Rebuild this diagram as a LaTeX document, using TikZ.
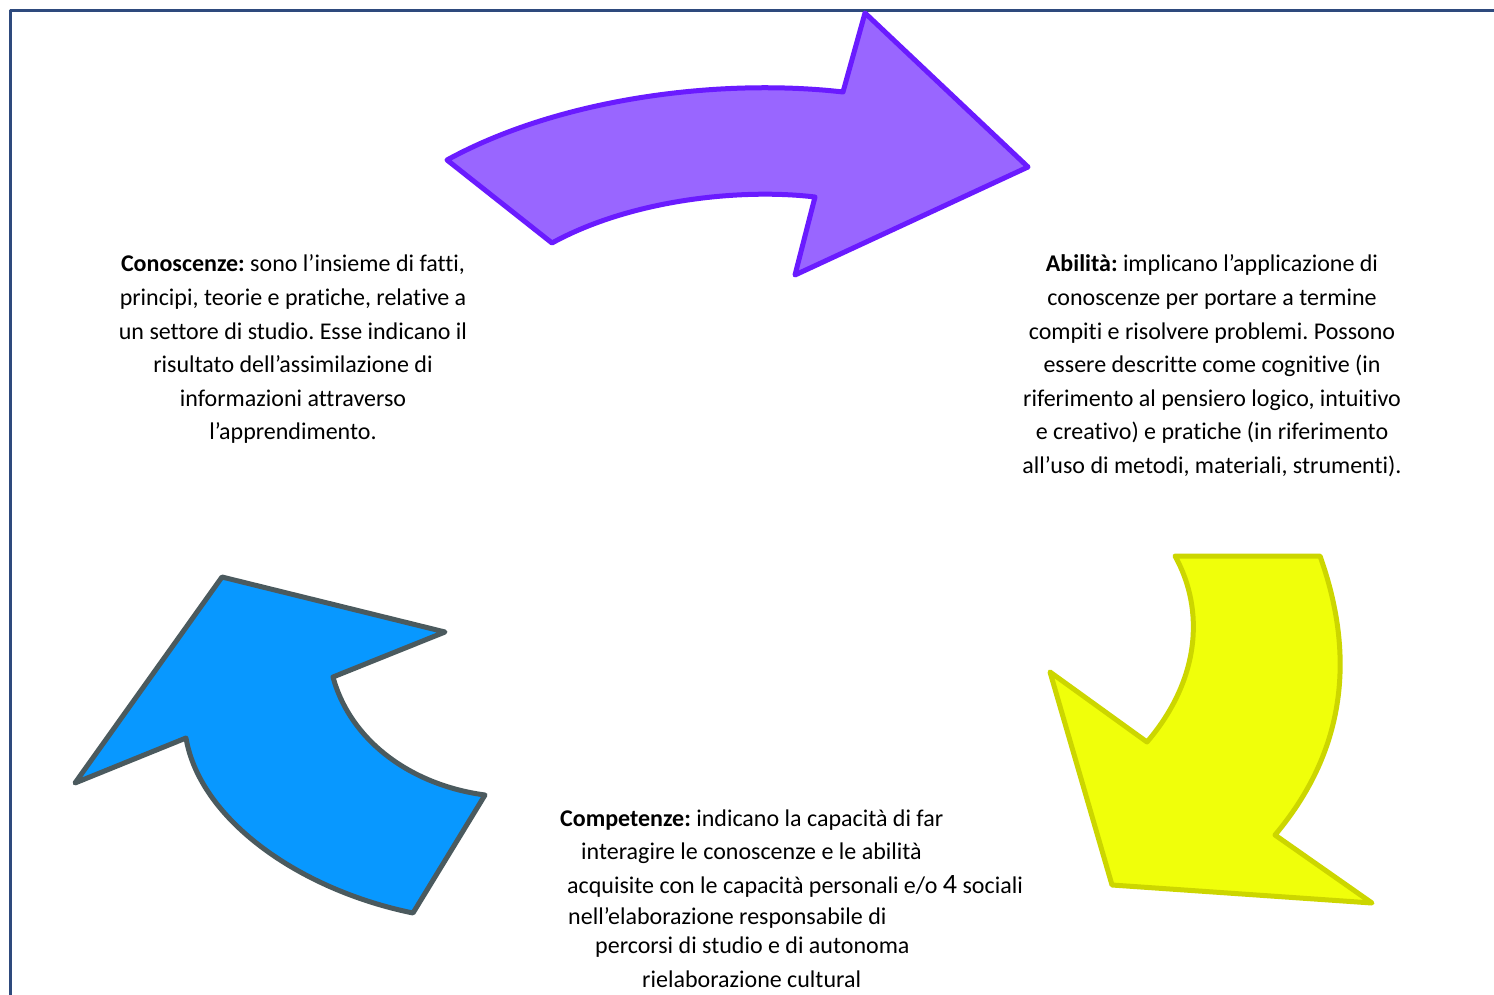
\documentclass[tikz,border=0pt]{standalone}
\usepackage{fontspec}
\setmainfont{Carlito}[Ligatures=NoCommon]
\frenchspacing
\definecolor{cornice}{HTML}{2E4A7D}
\definecolor{violaFill}{HTML}{9966FF}
\definecolor{violaLine}{HTML}{6A1BFF}
\definecolor{gialloFill}{HTML}{F0FF0A}
\definecolor{gialloLine}{HTML}{CCD600}
\definecolor{bluFill}{HTML}{0898FF}
\definecolor{bluLine}{HTML}{4B5A5E}
\begin{document}
\begin{tikzpicture}[x=1pt, y=-1pt, line join=round, line cap=round,
		testo/.style={font=\fontsize{24}{30}\selectfont, inner sep=0pt, anchor=base},
		testosx/.style={testo, anchor=base west},
		freccia/.style={line width=5pt}
		]
		\useasboundingbox (0,0) rectangle (1494,995);
		\fill[white] (0,0) rectangle (1494,995);
		% cornice
		\draw[cornice, line width=3pt, line cap=butt] (10,995) -- (10,11) -- (1494,11);
		% frecce
		\draw[freccia, draw=violaLine, fill=violaFill] (447,160) .. controls (560,98) and (720,78) .. (843,92) -- (865,13) -- (1028,167) -- (795,275) -- (815,197) .. controls (740,188) and (630,200) .. (552,243) -- cycle;
		\draw[freccia, draw=gialloLine, fill=gialloFill] (1175,556) -- (1320,556) .. controls (1350,640) and (1355,740) .. (1275,835) -- (1372,903) -- (1112,885) -- (1050,672) -- (1147,742) .. controls (1200,680) and (1205,610) .. (1175,556) -- cycle;
		\draw[freccia, draw=bluLine, fill=bluFill] (222,577) -- (445,632) -- (333,677) .. controls (350,740) and (410,785) .. (485,795) -- (413,913) .. controls (300,890) and (200,820) .. (186,738) -- (75,783) -- cycle;
		% conoscenze
		\foreach \riga [count=\i from 0] in {{\textbf{Conoscenze:} sono l’insieme di fatti,}, {principi, teorie e pratiche, relative a}, {un settore di studio. Esse indicano il}, {risultato dell’assimilazione di}, {informazioni attraverso}, {l’apprendimento.}}
			\node[testo] (con\i) at (293,{272+33.5*\i}) {\riga};
		% abilita
		\foreach \riga [count=\i from 0] in {{\textbf{Abilità:} implicano l’applicazione di}, {conoscenze per portare a termine}, {compiti e risolvere problemi. Possono}, {essere descritte come cognitive (in}, {riferimento al pensiero logico, intuitivo}, {e creativo) e pratiche (in riferimento}, {all’uso di metodi, materiali, strumenti).}}
			\node[testo] (abi\i) at (1212,{272+33.5*\i}) {\riga};
		% competenze
		\node[testosx] (com0) at (560,826) {\textbf{Competenze:} indicano la capacità di far};
		\node[testosx] (com1) at (581,859) {interagire le conoscenze e le abilità};
		\node[testosx] (com2) at (567,893) {acquisite con le capacità personali e/o {\fontsize{28}{30}\selectfont 4} sociali};
		\node[testosx] (com3) at (568,924) {nell’elaborazione responsabile di};
		\node[testosx] (com4) at (595,953) {percorsi di studio e di autonoma};
		\node[testosx] (com5) at (642,987) {rielaborazione cultural};
\end{tikzpicture}
\end{document}
